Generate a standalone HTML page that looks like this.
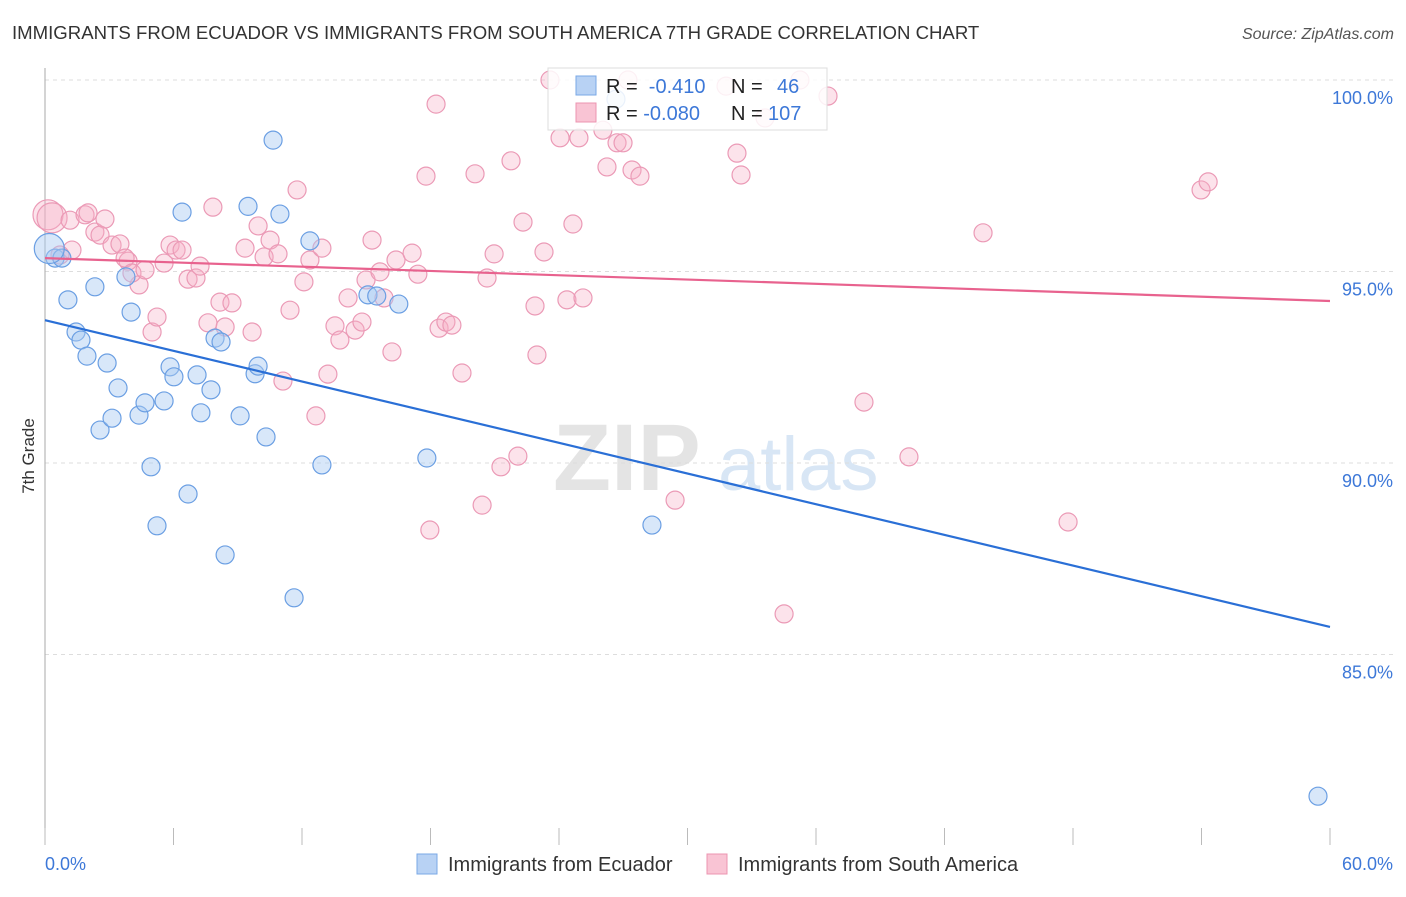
<!DOCTYPE html>
<html><head><meta charset="utf-8"><style>
body{margin:0;background:#fff;font-family:"Liberation Sans",sans-serif;}
svg text{font-family:"Liberation Sans",sans-serif;}
</style></head><body>
<svg id="c" width="1406" height="892" viewBox="0 0 1406 892">
<text x="12" y="39" font-size="18.6" fill="#333">IMMIGRANTS FROM ECUADOR VS IMMIGRANTS FROM SOUTH AMERICA 7TH GRADE CORRELATION CHART</text>
<text x="1394" y="39" font-size="16" fill="#555" text-anchor="end" font-style="italic">Source: ZipAtlas.com</text>
<text x="34" y="456" font-size="17" fill="#333" text-anchor="middle" transform="rotate(-90 34 456)">7th Grade</text>
<g><text x="553" y="490" font-size="95" fill="#e4e4e4" font-family="Liberation Serif" font-weight="bold">ZIP</text><text x="718" y="490" font-size="76" fill="#d8e6f5">atlas</text></g>
<g id="grid"></g><g id="axes"></g><g id="pts"></g><g id="lines"></g>
<g>
<rect x="548" y="68" width="279" height="62" fill="#fff" fill-opacity="0.85" stroke="#ddd"/>
<rect x="576" y="76" width="20" height="19" fill="#b8d2f4" stroke="#7aa8e6"/>
<rect x="576" y="103" width="20" height="19" fill="#f9c4d4" stroke="#ec94b0"/>
<text x="606" y="93" font-size="20" fill="#222">R = <tspan fill="#3d78d8">&#160;-0.410</tspan><tspan x="731">N =</tspan><tspan x="777" fill="#3d78d8">46</tspan></text>
<text x="606" y="120" font-size="20" fill="#222">R = <tspan fill="#3d78d8">-0.080</tspan><tspan x="731">N =</tspan><tspan x="768" fill="#3d78d8">107</tspan></text>
</g>
<g>
<rect x="417" y="854" width="20" height="20" fill="#b8d2f4" stroke="#7aa8e6"/>
<text x="448" y="871" font-size="20" fill="#333">Immigrants from Ecuador</text>
<rect x="707" y="854" width="20" height="20" fill="#f9c4d4" stroke="#ec94b0"/>
<text x="738" y="871" font-size="20" fill="#333">Immigrants from South America</text>
</g>
</svg>
<script>
const yTicks=[100,95,90,85];
const xTickLabels=["0.0%","60.0%"];
const blueX=[0.47,0.79,1.07,2.33,1.45,1.68,1.96,2.9,3.41,2.57,3.13,3.78,4.02,4.39,4.67,4.95,5.23,5.56,5.84,6.02,6.4,6.68,7.1,7.28,7.75,7.94,8.22,8.41,9.11,9.48,9.81,9.95,10.32,10.65,10.97,11.63,12.37,12.93,15.08,15.49,16.52,17.83,28.34,59.44,26.66,0.2];
const blueY=[95.35,95.35,94.26,94.6,93.42,93.21,92.79,92.61,91.96,90.86,91.17,94.86,93.94,91.25,91.57,89.9,88.36,91.62,92.51,92.25,96.55,89.19,92.3,91.31,91.91,93.26,93.16,87.6,91.23,96.7,92.33,92.53,90.68,98.43,96.5,86.48,95.8,89.95,94.39,94.36,94.15,90.13,88.38,81.3,99.5,95.6];
const pinkX=[0.14,0.33,1.17,1.26,0.70,1.87,2.01,2.33,2.80,2.57,3.13,3.50,3.88,3.74,4.39,4.06,4.67,5.00,5.23,5.56,5.84,6.12,6.40,6.68,7.05,7.24,7.61,7.84,8.17,8.41,8.73,9.34,9.67,9.95,10.23,10.51,10.88,11.11,11.44,11.77,12.09,12.37,12.65,12.93,13.21,13.54,13.77,14.15,14.48,14.80,14.99,15.27,15.64,15.83,16.20,16.39,17.14,17.41,17.79,17.97,18.26,18.40,18.72,19.00,19.47,20.08,20.41,20.64,20.97,21.29,21.76,22.08,22.32,22.88,22.97,23.30,23.58,24.05,24.37,24.65,24.93,25.12,26.05,26.24,26.71,26.99,27.41,27.78,27.22,29.42,31.80,32.31,32.50,33.62,34.51,35.25,36.56,38.24,40.34,43.80,47.77,53.98,54.31];
const pinkY=[96.48,96.40,96.34,95.56,95.43,96.48,96.53,96.03,96.37,95.95,95.69,95.72,95.27,95.35,94.65,94.96,95.04,93.42,93.81,95.22,95.69,95.56,95.56,94.80,94.83,95.14,93.66,96.68,94.20,93.55,94.18,95.61,93.42,96.19,95.38,95.82,95.46,92.14,93.99,97.13,94.73,95.30,91.23,95.61,92.32,93.58,93.21,94.31,93.47,93.68,94.78,95.82,94.99,94.31,92.90,95.30,95.48,94.93,97.49,88.25,99.37,93.52,93.68,93.60,92.35,97.55,88.90,94.83,95.46,89.90,97.89,90.18,96.29,94.10,92.82,95.51,100.0,98.49,94.26,96.24,98.49,94.31,98.69,97.73,98.36,98.36,97.65,97.49,100.0,89.03,99.84,98.09,97.52,99.01,86.06,100.0,99.58,91.59,90.16,96.01,88.46,97.13,97.34];
const bigPink=[0,1];const bigBlue=[45];
const trendBlue=[93.73,85.72];const trendPink=[95.35,94.23];
const X=v=>45+v/60*1285, Y=v=>80+(100-v)*38.3;
const NS="http://www.w3.org/2000/svg";
function mk(t,a,p){const e=document.createElementNS(NS,t);for(const k in a)e.setAttribute(k,a[k]);p.appendChild(e);return e;}
const g=document.getElementById('grid'),ax=document.getElementById('axes'),pts=document.getElementById('pts'),ln=document.getElementById('lines');
yTicks.forEach(v=>{
 const l=mk('line',{x1:45,x2:1394,y1:Y(v),y2:Y(v),stroke:'#ddd','stroke-dasharray':'4,4'},g);
 
 
 const t=mk('text',{x:1393,y:Y(v)+24,'font-size':18,fill:'#3d78d8','text-anchor':'end'},ax);t.textContent=v.toFixed(1)+'%';
 
 
});
const la=mk('line',{x1:45,x2:45,y1:68,y2:845,stroke:'#aaa'},ax);


for(let i=0;i<=10;i++){const x=X(i*6);const t=mk('line',{x1:x,x2:x,y1:828,y2:845,stroke:'#bbb'},ax);
 
 }
xTickLabels.forEach((s,i)=>{const t=mk('text',{x:i?1393:45,y:870,'font-size':18,fill:'#3d78d8','text-anchor':i?'end':'start'},ax);t.textContent=s;
 
 });
pinkX.forEach((v,i)=>{const c=mk('circle',{cx:X(v),cy:Y(pinkY[i]),r:bigPink.includes(i)?15:9,fill:'#f5b0c6','fill-opacity':0.35,stroke:'#eb9ab6','stroke-width':1.2},pts);
 
 });
blueX.forEach((v,i)=>{const c=mk('circle',{cx:X(v),cy:Y(blueY[i]),r:bigBlue.includes(i)?15:9,fill:'#a9c9f2','fill-opacity':0.45,stroke:'#6b9fe3','stroke-width':1.2},pts);
 
 });
const tb=mk('line',{x1:X(0),y1:Y(trendBlue[0]),x2:X(60),y2:Y(trendBlue[1]),stroke:'#2a6fd6','stroke-width':2.2},ln);


const tp=mk('line',{x1:X(0),y1:Y(trendPink[0]),x2:X(60),y2:Y(trendPink[1]),stroke:'#e8628e','stroke-width':2.2},ln);


</script>
</body></html>
